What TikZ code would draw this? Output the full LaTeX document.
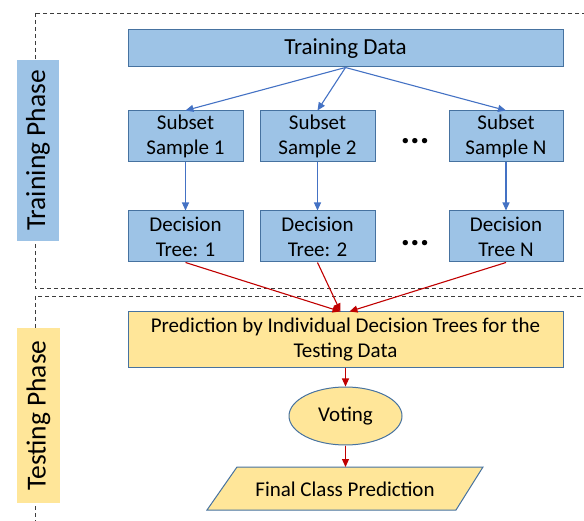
\documentclass[tikz,border=0pt]{standalone}
\usepackage{fontspec}
\setmainfont{Carlito}
\usetikzlibrary{arrows.meta,shapes.geometric}
\definecolor{boxblue}{RGB}{157,195,230}
\definecolor{borderblue}{RGB}{70,114,160}
\definecolor{boxyellow}{RGB}{255,230,153}
\definecolor{arrowblue}{RGB}{68,114,196}
\definecolor{arrowred}{RGB}{192,0,0}
\definecolor{dashgray}{RGB}{60,60,60}
\tikzset{
  txt/.style={font=\fontsize{21}{25}\selectfont, align=center, inner sep=0pt},
  bluebox/.style={txt, rectangle, draw=borderblue, fill=boxblue, line width=1pt},
  yellowbox/.style={txt, draw=borderblue, fill=boxyellow, line width=1pt},
  phaselabel/.style={rectangle, inner sep=0pt, font=\fontsize{27.5}{30}\selectfont, rotate=90},
  bluearrow/.style={draw=arrowblue, line width=1.1pt, -{Triangle[length=8pt,width=7pt]}},
  redarrow/.style={draw=arrowred, line width=1.1pt, -{Triangle[length=8pt,width=7pt]}},
  phaseframe/.style={draw=dashgray, line width=0.9pt, dash pattern=on 4pt off 3pt},
  dotsnode/.style={inner sep=0pt, font=\bfseries\fontsize{36}{36}\selectfont}
}
\begin{document}
\begin{tikzpicture}[x=1pt, y=-1pt]
\useasboundingbox (0,0) rectangle (584,521);
% dashed phase frames
\draw[phaseframe] (35,13) rectangle (592,288);
\draw[phaseframe] (35,296) rectangle (592,530);
% phase labels
\node[phaselabel, fill=boxblue, minimum width=181pt, minimum height=42pt] (trainlbl) at (38,150.5) {Training Phase};
\node[phaselabel, fill=boxyellow, minimum width=175pt, minimum height=43pt] (testlbl) at (38.5,415.5) {Testing Phase};
% training nodes
\node[bluebox, font=\fontsize{23}{26}\selectfont, minimum width=435pt, minimum height=37pt] (td) at (345.5,48.5) {Training Data};
\node[bluebox, minimum width=115pt, minimum height=51pt] (s1) at (185.5,136.5) {Subset\\Sample 1};
\node[bluebox, minimum width=115pt, minimum height=51pt] (s2) at (317.5,136.5) {Subset\\Sample 2};
\node[bluebox, minimum width=114pt, minimum height=51pt] (sN) at (506,136.5) {Subset\\Sample N};
\node[bluebox, minimum width=115pt, minimum height=51pt] (t1) at (185.5,236.5) {Decision\\Tree: 1};
\node[bluebox, minimum width=115pt, minimum height=51pt] (t2) at (317.5,236.5) {Decision\\Tree: 2};
\node[bluebox, minimum width=114pt, minimum height=51pt] (tN) at (506,236.5) {Decision\\Tree N};
\node[dotsnode] (dots1) at (415,141) {...};
\node[dotsnode] (dots2) at (415,243) {...};
% testing nodes
\node[yellowbox, rectangle, minimum width=435pt, minimum height=56pt] (pred) at (345.5,340) {Prediction by Individual Decision Trees for the\\Testing Data};
\node[yellowbox, ellipse, minimum width=113pt, minimum height=58pt] (vote) at (345.5,416) {Voting};
\path[draw=borderblue, fill=boxyellow, line width=1pt] (237,467) -- (483,467) -- (456,510) -- (207,510) -- cycle;
\node[txt] (final) at (345,489) {Final Class Prediction};
\coordinate (finaltop) at (345.5,467);
% connectors
\draw[bluearrow] (td.south) -- (s1.north);
\draw[bluearrow] (td.south) -- (s2.north);
\draw[bluearrow] (td.south) -- (sN.north);
\draw[bluearrow] (s1.south) -- (t1.north);
\draw[bluearrow] (s2.south) -- (t2.north);
\draw[bluearrow] (sN.south) -- (tN.north);
\draw[redarrow] (t1.south) -- ([xshift=-5pt]pred.north);
\draw[redarrow] (t2.south) -- ([xshift=-5pt]pred.north);
\draw[redarrow] (tN.south) -- ([xshift=4pt]pred.north);
\draw[redarrow] (pred.south) -- (vote.north);
\draw[redarrow] (vote.south) -- (finaltop);
\end{tikzpicture}
\end{document}
